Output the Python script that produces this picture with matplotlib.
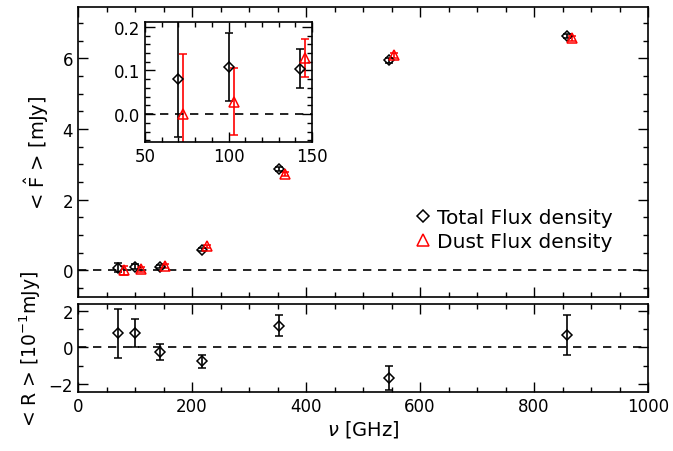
import numpy as np
import matplotlib
matplotlib.use("Agg")
import matplotlib.pyplot as plt
from matplotlib.lines import Line2D
from matplotlib.ticker import MultipleLocator

# Planck frequencies [GHz]
nu = np.array([70, 100, 143, 217, 353, 545, 857])

# stacked flux densities [mJy]
f_total = np.array([0.080, 0.108, 0.104, 0.59, 2.87, 5.94, 6.63])
e_total = np.array([0.133, 0.077, 0.044, 0.04, 0.05, 0.06, 0.07])
f_dust = np.array([0.000, 0.028, 0.128, 0.68, 2.73, 6.08, 6.56])
e_dust = np.array([0.137, 0.077, 0.044, 0.04, 0.05, 0.06, 0.07])

# residuals [1e-1 mJy]
r_val = np.array([0.77, 0.79, -0.26, -0.77, 1.19, -1.68, 0.68])
r_err = np.array([1.35, 0.79, 0.46, 0.36, 0.57, 0.64, 1.08])

shift_main = 10   # dust points drawn slightly offset
shift_inset = 3

plt.rcParams["font.family"] = "DejaVu Sans"
plt.rcParams["font.size"] = 12

fig = plt.figure(figsize=(6.73, 4.52), dpi=100)
ax = fig.add_axes([0.1159, 0.3407, 0.847, 0.6416])
axr = fig.add_axes([0.1159, 0.1305, 0.847, 0.1947])
axi = fig.add_axes([0.2155, 0.6836, 0.2481, 0.2655])


def style(a):
    a.tick_params(which="both", direction="in", top=True, right=True)
    a.tick_params(which="major", length=7, width=1)
    a.tick_params(which="minor", length=3.5, width=1)
    for s in a.spines.values():
        s.set_linewidth(1.2)


dkw = dict(fmt="D", mfc="none", mec="k", ecolor="k", ms=5.5, mew=1.1,
           capsize=3, elinewidth=1.2, capthick=1.2)
tkw = dict(fmt="^", mfc="none", mec="red", ecolor="red", ms=7, mew=1.1,
           capsize=3, elinewidth=1.2, capthick=1.2)

# main panel
ax.errorbar(nu, f_total, yerr=e_total, **dkw)
ax.errorbar(nu + shift_main, f_dust, yerr=e_dust, **tkw)
ax.axhline(0, color="k", ls="--", lw=1.2, dashes=(5, 4))
ax.set_xlim(0, 1000)
ax.set_ylim(-0.75, 7.45)
ax.xaxis.set_major_locator(MultipleLocator(200))
ax.xaxis.set_minor_locator(MultipleLocator(50))
ax.yaxis.set_major_locator(MultipleLocator(2))
ax.yaxis.set_minor_locator(MultipleLocator(0.5))
ax.set_xticklabels([])
ax.set_ylabel(r"< $\hat{\rm F}$ > [mJy]", fontsize=14, labelpad=8)
style(ax)

handles = [Line2D([], [], ls="none", marker="D", mfc="none", mec="k", ms=6.5, mew=1.1),
           Line2D([], [], ls="none", marker="^", mfc="none", mec="red", ms=9, mew=1.1)]
ax.legend(handles, ["Total Flux density", "Dust Flux density"], loc="lower right",
          bbox_to_anchor=(0.97, 0.095), frameon=False, handletextpad=0.2,
          handlelength=1.0, labelspacing=0.25, fontsize=14.5)

# inset
axi.errorbar(nu[:3], f_total[:3], yerr=e_total[:3], **dkw)
axi.errorbar(nu[:3] + shift_inset, f_dust[:3], yerr=e_dust[:3], **tkw)
axi.axhline(0, color="k", ls="--", lw=1.2, dashes=(5, 4))
axi.set_xlim(50, 150)
axi.set_ylim(-0.064, 0.211)
axi.xaxis.set_major_locator(MultipleLocator(50))
axi.xaxis.set_minor_locator(MultipleLocator(10))
axi.yaxis.set_major_locator(MultipleLocator(0.1))
axi.yaxis.set_minor_locator(MultipleLocator(0.02))
axi.set_yticks([0.0, 0.1, 0.2])
axi.set_yticklabels(["0.0", "0.1", "0.2"])
style(axi)
axi.patch.set_facecolor("white")

# residual panel
axr.errorbar(nu, r_val, yerr=r_err, **dkw)
axr.axhline(0, color="k", ls="--", lw=1.2, dashes=(5, 4))
axr.set_xlim(0, 1000)
axr.set_ylim(-2.45, 2.38)
axr.xaxis.set_major_locator(MultipleLocator(200))
axr.xaxis.set_minor_locator(MultipleLocator(50))
axr.yaxis.set_major_locator(MultipleLocator(2))
axr.yaxis.set_minor_locator(MultipleLocator(1))
axr.set_xlabel(r"$\nu$ [GHz]", fontsize=14, labelpad=2)
axr.set_ylabel(r"< R > [10$^{-1}$mJy]", fontsize=13.5, labelpad=4)
style(axr)

fig.savefig("out.png", dpi=100)
